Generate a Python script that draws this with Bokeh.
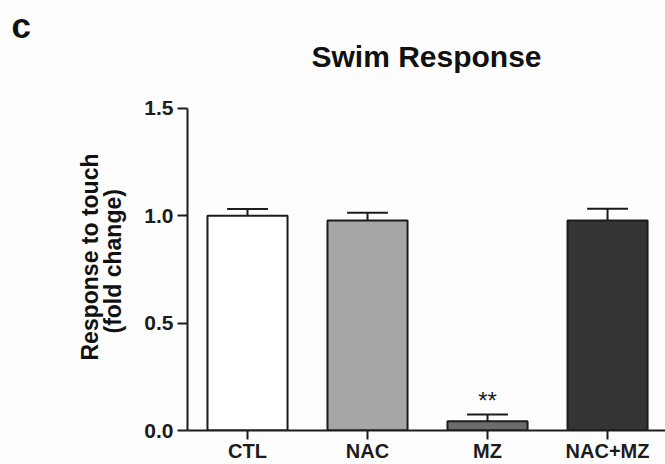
from bokeh.plotting import figure
from bokeh.models import Range1d, FixedTicker, ColumnDataSource, Title
from bokeh.core.properties import value
from bokeh.embed import file_html
from bokeh.resources import INLINE

# Swim response to touch, fold change vs. control (mean + SEM)
groups = ["CTL", "NAC", "MZ", "NAC+MZ"]
means = [1.0, 0.978, 0.043, 0.978]
sems = [0.032, 0.036, 0.032, 0.055]
colors = ["#ffffff", "#a6a6a6", "#6c6c6c", "#343434"]
y_ticks = [0.0, 0.5, 1.0, 1.5]
y_tick_labels = ["0.0", "0.5", "1.0", "1.5"]
significance = ["", "", "**", ""]
chart_title = "Swim Response"

FONT = "Liberation Sans"
INK = "#1c1c1c"

xs = list(range(len(groups)))
tops = [m + s for m, s in zip(means, sems)]
src = ColumnDataSource(dict(x=xs, mean=means, sem=sems, top=tops, color=colors,
                            cap_l=[x - 0.17 for x in xs], cap_r=[x + 0.17 for x in xs],
                            sig=significance))

# the frame reaches above the 1.5 tick so the chart title can sit inside it;
# the y axis line itself is bounded to 0..1.5
Y_TOP = 1.798
p = figure(width=665, height=464, output_backend="svg", toolbar_location=None,
           x_range=Range1d(-0.5, 3.483), y_range=Range1d(0, Y_TOP),
           min_border_left=187, min_border_right=0, min_border_top=44,
           min_border_bottom=0)
p.background_fill_color = "#fdfdfd"
p.border_fill_color = "#fdfdfd"
p.outline_line_color = None
p.grid.visible = False

# bars
p.vbar(x="x", top="mean", width=0.667, bottom=0, source=src,
       fill_color="color", line_color=INK, line_width=2)
# upper error whiskers with caps
p.segment(x0="x", y0="mean", x1="x", y1="top", source=src, line_color=INK, line_width=2)
p.segment(x0="cap_l", y0="top", x1="cap_r", y1="top", source=src, line_color=INK, line_width=2)
# significance marks
p.text(x="x", y="top", text="sig", source=src, text_align="center",
       text_baseline="alphabetic", y_offset=-14, text_font=value(FONT),
       text_font_size="24px", text_color=INK)

# chart title, centred over the plotting area
p.text(x=[1.4915], y=[1.742], text=[chart_title], text_align="center",
       text_baseline="alphabetic", text_font=value(FONT), text_font_style="bold",
       text_font_size="30px", text_color="#111111")

# axes
xa = p.xaxis[0]
xa.ticker = FixedTicker(ticks=xs)
xa.major_label_overrides = {i: g for i, g in enumerate(groups)}
xa.major_label_text_font = FONT
xa.major_label_text_font_style = "bold"
xa.major_label_text_font_size = "20px"
xa.major_label_text_color = INK
xa.major_label_standoff = 0
xa.major_tick_out = 9
xa.major_tick_in = 0
xa.minor_tick_line_color = None
xa.axis_line_width = 2
xa.major_tick_line_width = 2
xa.axis_line_color = INK
xa.major_tick_line_color = INK

ya = p.yaxis[0]
ya.bounds = (0, 1.5)
ya.ticker = FixedTicker(ticks=y_ticks)
ya.major_label_overrides = {t: l for t, l in zip(y_ticks, y_tick_labels)}
ya.major_label_text_font = FONT
ya.major_label_text_font_style = "bold"
ya.major_label_text_font_size = "21px"
ya.major_label_text_color = INK
ya.major_label_standoff = 4
ya.major_tick_out = 10
ya.major_tick_in = 0
ya.minor_tick_line_color = None
ya.axis_line_width = 2
ya.major_tick_line_width = 2
ya.axis_line_color = INK
ya.major_tick_line_color = INK

# panel letter, top-left corner
p.title.text = "c"
p.title.align = "left"
p.title.offset = -176
p.title.standoff = 0
p.title.text_font = FONT
p.title.text_font_style = "bold"
p.title.text_font_size = "35px"
p.title.text_color = "#111111"

# two-line y-axis label, inner line first
for txt, so, off in [("(fold change)", 32, 97), ("Response to touch", -43, 70)]:
    p.add_layout(Title(text=txt, align="left", offset=off, standoff=so,
                       text_font=FONT, text_font_style="bold", text_font_size="23px",
                       text_color="#111111"), "left")

open("out.html", "w").write(file_html(p, INLINE))
